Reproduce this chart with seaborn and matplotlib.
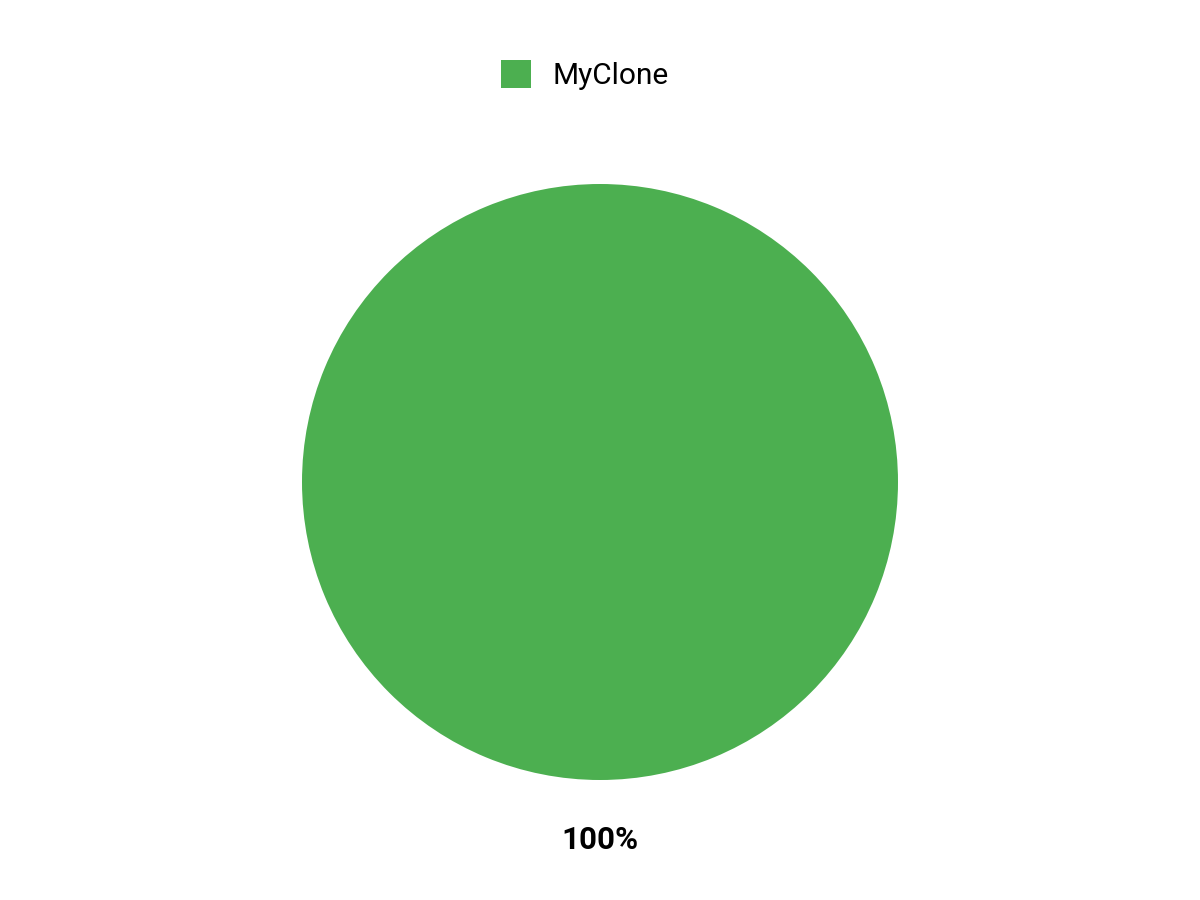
import matplotlib.pyplot as plt
from matplotlib.patches import Patch
import seaborn as sns

sns.set_theme(style="white")
plt.rcParams['font.family'] = ['Roboto', 'DejaVu Sans']

labels = ["MyClone"]
values = [100]
colors = ["#4CAF50"]

fig = plt.figure(figsize=(12, 9), dpi=100)
ax = fig.add_axes([0, 0, 1, 1])

# pie centred at (600, 482) from top, radius ~298 px
wedges, texts, autotexts = ax.pie(values, colors=colors, startangle=90, center=(600, 418),
                                  radius=298, autopct="%1.0f%%", pctdistance=1.2,
                                  wedgeprops=dict(linewidth=0),
                                  textprops=dict(fontsize=22.5, fontweight="bold", color="black"))
for t in autotexts:
    t.set_va("center")

# pie() resets the limits, so set them afterwards
ax.set_xlim(0, 1200)
ax.set_ylim(0, 900)
ax.set_aspect("equal")
ax.axis("off")

handles = [Patch(facecolor=c, edgecolor="none") for c in colors]
fig.legend(handles, labels, loc="center", bbox_to_anchor=(585 / 1200, 1 - 75 / 900), frameon=False,
           fontsize=21.5, handlelength=1.0, handleheight=1.1, handletextpad=0.7,
           labelcolor="black")

fig.savefig("out.png", dpi=100)
